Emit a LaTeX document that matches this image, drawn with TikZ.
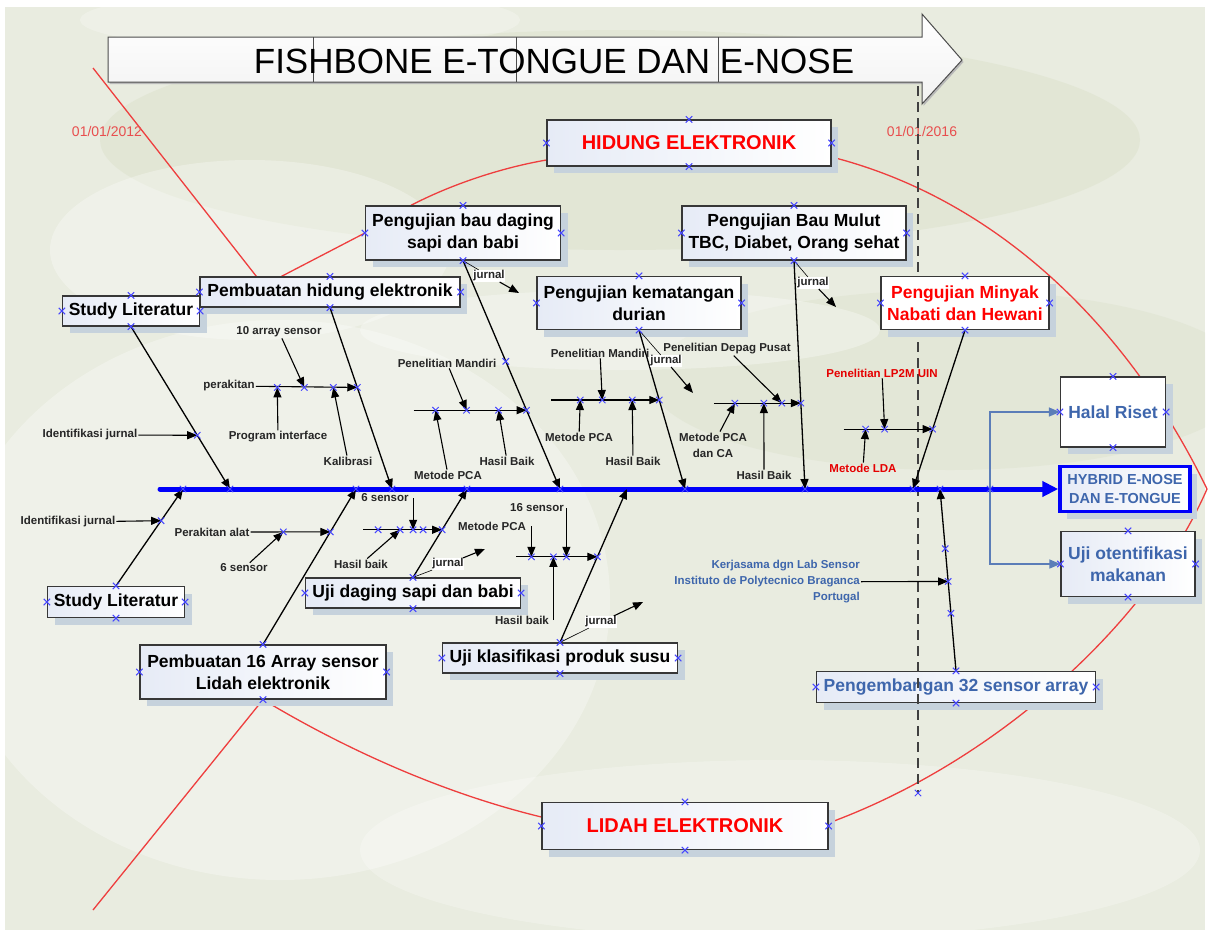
\documentclass[tikz,border=0pt]{standalone}
\usepackage{fontspec}
\setmainfont{Liberation Sans}
\usetikzlibrary{arrows.meta, positioning, calc, shadows}

\pgfdeclarelayer{back}
\pgfsetlayers{back,main}

\definecolor{bgc}{RGB}{233,236,224}
\definecolor{bgd}{RGB}{222,227,207}
\definecolor{fishc}{RGB}{238,62,62}
\definecolor{datec}{RGB}{232,78,78}
\definecolor{spinec}{RGB}{0,0,250}
\definecolor{hblue}{RGB}{62,102,172}
\definecolor{mkc}{RGB}{70,70,255}
\definecolor{shadc}{RGB}{198,210,220}
\definecolor{boxl}{RGB}{230,235,246}
\definecolor{edgec}{RGB}{55,55,55}

\newcommand{\bluex}[1]{\draw[xmk] (#1) +(-3.2,-3.2) -- +(3.2,3.2) +(-3.2,3.2) -- +(3.2,-3.2);}

\begin{document}
\begin{tikzpicture}[x=1pt, y=-1pt, >={Triangle[length=10pt, width=8pt]}]
    \tikzstyle{box} = [rectangle, draw=edgec, line width=1.2pt, left color=boxl, right color=white, align=center, inner sep=0pt, font=\bfseries\fontsize{17.5}{22}\selectfont, drop shadow={shadow xshift=7pt, shadow yshift=-7pt, fill=shadc, opacity=1}]
    \tikzstyle{wbox} = [box, left color=white, right color=white]
    \tikzstyle{bigbox} = [box, text=red, font=\bfseries\fontsize{20}{24}\selectfont]
    \tikzstyle{lbl} = [inner sep=1pt, align=center, font=\bfseries\fontsize{11.5}{16}\selectfont, text=black!85]
    \tikzstyle{rlbl} = [lbl, text=red!90!black]
    \tikzstyle{jl} = [lbl, fill=white, inner sep=0.5pt]
    \tikzstyle{date} = [inner sep=1pt, text=datec, font=\fontsize{14}{16}\selectfont]
    \tikzstyle{bone} = [->, line width=1.3pt]
    \tikzstyle{sub} = [->, line width=1.1pt]
    \tikzstyle{call} = [line width=0.6pt]
    \tikzstyle{spine} = [draw=spinec, line width=5pt, line cap=round, -{Triangle[length=16pt, width=15pt]}]
    \tikzstyle{branch} = [draw=hblue!85, line width=1.3pt, {Triangle[length=11pt, width=9pt]}-{Triangle[length=11pt, width=9pt]}]
    \tikzstyle{fish} = [draw=fishc, line width=1.3pt]
    \tikzstyle{cut} = [draw=black!75, line width=1.2pt, dash pattern=on 10pt off 6pt]
    \tikzstyle{tarrow} = [draw=gray!60!black, line width=1pt, top color=white, bottom color=gray!10, drop shadow={shadow xshift=1.5pt, shadow yshift=-2pt, fill=gray!55, opacity=1}]
    \tikzstyle{xmk} = [draw=mkc, line width=1pt]

    \useasboundingbox (0,0) rectangle (1209,935);

    % Background
    \begin{pgfonlayer}{back}
        \fill[bgc] (5,7) rectangle (1205,930);
        \begin{scope}
            \clip (5,7) rectangle (1205,930);
            \fill[bgd, opacity=0.6] (620,140) ellipse [x radius=520, y radius=110];
            \fill[bgd, opacity=0.5] (950,380) ellipse [x radius=300, y radius=90];
            \fill[white, opacity=0.3] (280,600) ellipse [x radius=330, y radius=280];
            \fill[white, opacity=0.25] (780,850) ellipse [x radius=420, y radius=90];
            \fill[white, opacity=0.3] (250,250) ellipse [x radius=200, y radius=90];
            \fill[white, opacity=0.3] (620,330) ellipse [x radius=260, y radius=40];
            \fill[white, opacity=0.25] (300,20) ellipse [x radius=220, y radius=30];
        \end{scope}
    \end{pgfonlayer}

    % Title arrow
    \draw[tarrow] (108,37) -- (922,37) -- (922,14) -- (962,60) -- (922,104) -- (922,82) -- (108,82) -- cycle;
    \foreach \x in {313,516,718}
        \draw[draw=gray!60!black, line width=1pt] (\x,37) -- (\x,82);
    \node[font=\fontsize{35}{40}\selectfont] (title) at (554,61) {FISHBONE E-TONGUE DAN E-NOSE};

    % Lower boxes
    \node[box, minimum width=137, minimum height=31] (slB) at (116,602) {Study Literatur};
    \node[box, minimum width=246, minimum height=54] (p16) at (263,672) {Pembuatan 16 Array sensor\\Lidah elektronik};
    \node[box, minimum width=215, minimum height=30] (uds) at (413,593) {Uji daging sapi dan babi};
    \node[box, minimum width=235, minimum height=30] (ukp) at (560,658) {Uji klasifikasi produk susu};
    \node[box, text=hblue, minimum width=279, minimum height=31] (p32) at (956,687) {Pengembangan 32 sensor array};
    \node[bigbox, minimum width=286, minimum height=47] (lidah) at (685,826) {LIDAH ELEKTRONIK};

    % Time line
    \node[date] (d12) at (107,131) {01/01/2012};
    \node[date] (d16) at (922,131) {01/01/2016};
    \coordinate (dtop) at (918,86);
    \coordinate (dbot) at (918,793);
    \draw[cut] (dtop) -- (dbot);

    % Upper boxes
    \node[bigbox, minimum width=284, minimum height=46] (hidung) at (689,143) {HIDUNG ELEKTRONIK};
    \node[box, minimum width=137, minimum height=30] (slA) at (131,311) {Study Literatur};
    \node[box, minimum width=260, minimum height=30] (phe) at (330,292) {Pembuatan hidung elektronik};
    \node[box, minimum width=195, minimum height=54] (pbd) at (463,233) {Pengujian bau daging\\sapi dan babi};
    \node[box, minimum width=204, minimum height=53] (pkd) at (639,303) {Pengujian kematangan\\durian};
    \node[box, minimum width=224, minimum height=54] (pbm) at (794,233) {Pengujian Bau Mulut\\TBC, Diabet, Orang sehat};
    \node[wbox, text=red, minimum width=168, minimum height=53] (pmn) at (965,303) {Pengujian Minyak\\Nabati dan Hewani};

    % Result boxes
    \node[wbox, text=hblue, minimum width=105, minimum height=70] (halal) at (1113,412) {Halal Riset};
    \node[box, text=hblue, draw=spinec, line width=3.5pt, minimum width=130, minimum height=45, font=\bfseries\fontsize{14.5}{19}\selectfont] (hybrid) at (1125,489) {HYBRID E-NOSE\\DAN E-TONGUE};
    \node[box, text=hblue, minimum width=134, minimum height=65] (uji) at (1128,564) {Uji otentifikasi\\makanan};

    % Fish outline
    \begin{pgfonlayer}{back}
        \coordinate (tailA) at (93,68);
        \coordinate (tailB) at (93,910);
        \coordinate (nose) at (1207,489);
        \draw[fish] (tailA) -- ($(phe.north west)+(57,0)$);
        \draw[fish] ($(phe.north west)+(82,0)$) -- (pbd.west);
        \draw[fish] ($(pbd.north west)+(46,0)$) .. controls (450,185) and (500,168) .. ($(hidung.west)+(0,17)$);
        \draw[fish] ($(hidung.east)+(0,14)$) .. controls (1000,200) and (1130,330) .. (nose);
        \draw[fish] (nose) .. controls (1150,620) and (1000,760) .. ($(lidah.east)+(0,-3)$);
        \draw[fish] ($(lidah.west)+(0,-9)$) .. controls (430,790) and (330,740) .. (p16.south);
        \draw[fish] (p16.south) -- (tailB);
    \end{pgfonlayer}

    % Points on the spine
    \coordinate (s0) at (160,489);
    \coordinate (f1) at (183,489);
    \coordinate (e1) at (230,489);
    \coordinate (f2) at (356,489);
    \coordinate (e2) at (392,489);
    \coordinate (f3) at (467,489);
    \coordinate (e3) at (560,489);
    \coordinate (f4) at (627,489);
    \coordinate (e4) at (685,489);
    \coordinate (e5) at (805,489);
    \coordinate (e6) at (913,489);
    \coordinate (f5) at (940,489);
    \coordinate (g0) at (990,489);

    % Spine and results
    \draw[spine] (s0) -- (hybrid.west);
    \draw[branch] (halal.west) -| (g0) |- (uji.west);

    % Main bones
    \draw[bone] (slA.south) -- (e1);
    \draw[bone] (phe.south) -- (e2);
    \draw[bone] (pbd.south) -- (e3);
    \draw[bone] (pkd.south) -- (e4);
    \draw[bone] (pbm.south) -- (e5);
    \draw[bone] (pmn.south) -- (e6);
    \draw[bone] (slB.north) -- (f1);
    \draw[bone] (p16.north) -- (f2);
    \draw[bone] (uds.north) -- (f3);
    \draw[bone] (ukp.north) -- (f4);
    \draw[bone] (p32.north) -- (f5);

    % Points on the bones
    \coordinate (a1) at ($(slA.south)!0.669!(e1)$);
    \coordinate (b1) at ($(phe.south)!0.44!(e2)$);
    \coordinate (c1) at ($(pbd.south)!0.655!(e3)$);
    \coordinate (cm) at ($(pbd.south)!0.441!(e3)$);
    \coordinate (d1) at ($(pkd.south)!0.44!(e4)$);
    \coordinate (k1) at ($(pbm.south)!0.624!(e5)$);
    \coordinate (m1) at ($(pmn.south)!0.623!(e6)$);
    \coordinate (n1) at ($(slB.north)!0.673!(f1)$);
    \coordinate (o1) at ($(p16.north)!0.724!(f2)$);
    \coordinate (r1) at ($(uds.north)!0.539!(f3)$);
    \coordinate (u1) at ($(ukp.north)!0.558!(f4)$);
    \coordinate (v1) at ($(p32.north)!0.492!(f5)$);
    \coordinate (vm1) at ($(p32.north)!0.672!(f5)$);
    \coordinate (vm2) at ($(p32.north)!0.317!(f5)$);

    \coordinate (b1a) at ($(b1)+(-80,0)$);
    \coordinate (b1b) at ($(b1)+(-53,0)$);
    \coordinate (b1c) at ($(b1)+(-24,0)$);
    \coordinate (c0) at ($(c1)+(-113,0)$);
    \coordinate (c1a) at ($(c1)+(-91,0)$);
    \coordinate (c1b) at ($(c1)+(-60,0)$);
    \coordinate (c1c) at ($(c1)+(-28,0)$);
    \coordinate (d0) at ($(d1)+(-108,0)$);
    \coordinate (d1a) at ($(d1)+(-79,0)$);
    \coordinate (d1b) at ($(d1)+(-57,0)$);
    \coordinate (d1c) at ($(d1)+(-27,0)$);
    \coordinate (k0) at ($(k1)+(-87,0)$);
    \coordinate (k1a) at ($(k1)+(-66,0)$);
    \coordinate (k1b) at ($(k1)+(-37,0)$);
    \coordinate (k1c) at ($(k1)+(-19,0)$);
    \coordinate (m0) at ($(m1)+(-89,0)$);
    \coordinate (m1a) at ($(m1)+(-67,0)$);
    \coordinate (m1b) at ($(m1)+(-48,0)$);
    \coordinate (o1a) at ($(o1)+(-47,0)$);
    \coordinate (r0) at ($(r1)+(-79,0)$);
    \coordinate (r1a) at ($(r1)+(-64,0)$);
    \coordinate (r1b) at ($(r1)+(-42,0)$);
    \coordinate (r1c) at ($(r1)+(-29,0)$);
    \coordinate (r1d) at ($(r1)+(-19,0)$);
    \coordinate (u0) at ($(u1)+(-81,0)$);
    \coordinate (u1a) at ($(u1)+(-66,0)$);
    \coordinate (u1b) at ($(u1)+(-44,0)$);
    \coordinate (u1c) at ($(u1)+(-31,0)$);

    % Labels
    \node[lbl] (tid1) at (90,435) {Identifikasi jurnal};
    \node[lbl] (tper) at (229,386) {perakitan};
    \node[lbl] (t10) at (279,332) {10 array sensor};
    \node[lbl] (tpi) at (278,437) {Program interface};
    \node[lbl] (tkal) at (348,461) {Kalibrasi};
    \node[lbl] (tpm1) at (447,363) {Penelitian Mandiri};
    \node[lbl] (tpca1) at (448,475) {Metode PCA};
    \node[lbl] (thb1) at (507,461) {Hasil Baik};
    \node[lbl] (tpm2) at (600,353) {Penelitian Mandiri};
    \node[lbl] (tpca2) at (579,437) {Metode PCA};
    \node[lbl] (thb2) at (633,461) {Hasil Baik};
    \node[lbl] (tdp) at (727,349) {Penelitian Depag Pusat};
    \node[lbl] (tpca3) at (713,445) {Metode PCA\\dan CA};
    \node[lbl] (thb3) at (764,475) {Hasil Baik};
    \node[rlbl] (tlp) at (882,373) {Penelitian LP2M UIN};
    \node[rlbl] (tlda) at (863,468) {Metode LDA};
    \node[lbl] (tid2) at (68,522) {Identifikasi jurnal};
    \node[lbl] (tpa) at (212,532) {Perakitan alat};
    \node[lbl] (t6a) at (244,568) {6 sensor};
    \node[lbl] (t6b) at (385,498) {6 sensor};
    \node[lbl] (thb4) at (361,564) {Hasil baik};
    \node[lbl] (tpca4) at (492,526) {Metode PCA};
    \node[lbl] (t16) at (537,508) {16 sensor};
    \node[lbl] (thb5) at (522,620) {Hasil baik};
    \node[lbl, text=hblue, align=right, anchor=east] (tks) at (861,582) {Kerjasama dgn Lab Sensor\\Instituto de Polytecnico Braganca\\Portugal};

    % jurnal notes
    \node[jl] (j1) at (489,276) {jurnal};
    \node[jl] (j2) at (666,361) {jurnal};
    \node[jl] (j3) at (813,283) {jurnal};
    \node[jl] (j4) at (448,564) {jurnal};
    \node[jl] (j5) at (601,622) {jurnal};
    \coordinate (j1e) at (519,293);
    \coordinate (j2e) at (693,393);
    \coordinate (j3e) at (836,307);
    \coordinate (j4e) at (485,549);
    \coordinate (j5e) at (643,602);
    \draw[call] (pbd.south) -- (j1);
    \draw[call] (pkd.south) -- (j2);
    \draw[call] (pbm.south) -- (j3);
    \draw[call] (uds.north) -- (j4);
    \draw[call] (ukp.north) -- (j5);
    \foreach \j in {j1,j2,j3,j4,j5}
        \draw[sub] (\j) -- (\j e);

    % Sub bones
    \draw[sub] (tid1) -- (a1);
    \draw[sub] (tper) -- (b1);
    \draw[sub] (c0) -- (c1);
    \draw[sub] (d0) -- (d1);
    \draw[sub] (k0) -- (k1);
    \draw[sub] (m0) -- (m1);
    \draw[sub] (tid2) -- (n1);
    \draw[sub] (tpa) -- (o1);
    \draw[sub] (r0) -- (r1);
    \draw[sub] (u0) -- (u1);
    \draw[sub] (tks) -- (v1);

    % Causes
    \draw[sub] (t10) -- (b1b);
    \draw[sub] (tpi) -- (b1a);
    \draw[sub] (tkal) -- (b1c);
    \draw[sub] (tpm1) -- (c1b);
    \draw[sub] (tpca1) -- (c1a);
    \draw[sub] (thb1) -- (c1c);
    \draw[sub] (tpm2) -- (d1b);
    \draw[sub] (tpca2) -- (d1a);
    \draw[sub] (thb2) -- (d1c);
    \draw[sub] (tdp) -- (k1c);
    \draw[sub] (tpca3) -- (k1a);
    \draw[sub] (thb3) -- (k1b);
    \draw[sub] (tlp) -- (m1b);
    \draw[sub] (tlda) -- (m1a);
    \draw[sub] (t6a) -- (o1a);
    \draw[sub] (t6b.east -| r1c) -- (r1c);
    \draw[sub] (thb4) -- (r1b);
    \draw[sub] (tpca4.east -| u1a) -- (u1a);
    \draw[sub] (t16.east -| u1c) -- (u1c);
    \draw[sub] (thb5.east -| u1b) -- (u1b);

    % Handles
    \foreach \b in {slA,phe,pbd,pkd,pbm,pmn,hidung,halal,uji,slB,p16,uds,ukp,p32,lidah}
        \foreach \a in {north,south,east,west}
            {\bluex{\b.\a}}
    \foreach \p in {f1,e1,f2,e2,f3,e3,e4,e5,e6,f5,g0,a1,b1,b1a,b1b,b1c,c1,c1a,c1b,c1c,cm,d1,d1a,d1b,d1c,k1,k1a,k1b,k1c,m1,m1a,m1b,n1,o1,o1a,r1,r1a,r1b,r1c,r1d,u1,u1a,u1b,u1c,v1,vm1,vm2,dbot}
        {\bluex{\p}}
\end{tikzpicture}
\end{document}
